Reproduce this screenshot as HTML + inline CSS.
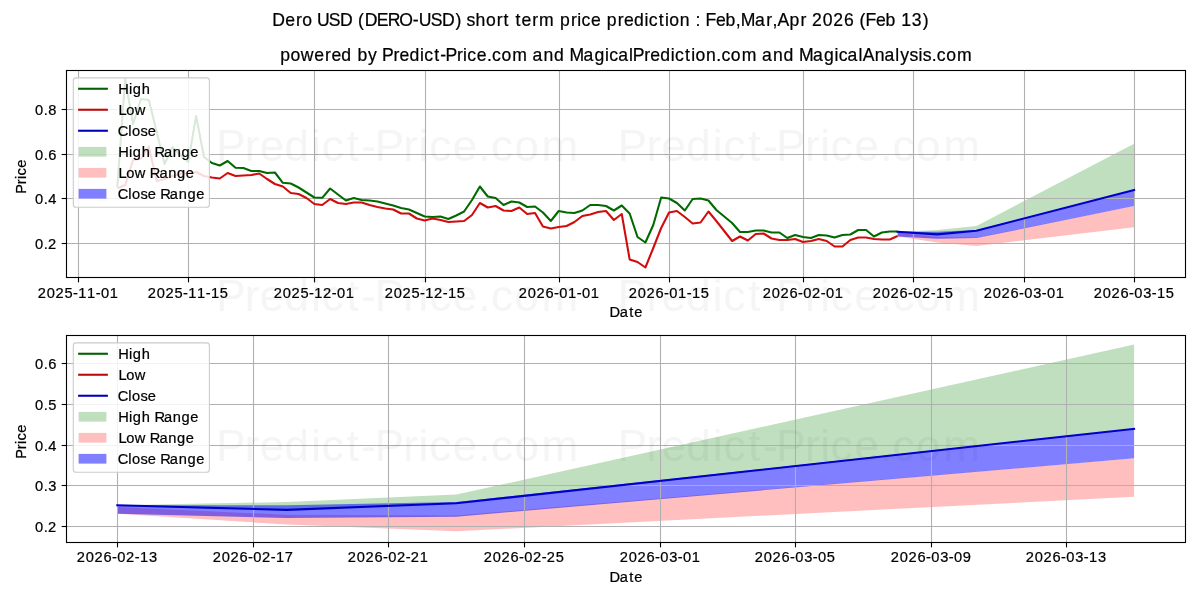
<!DOCTYPE html><html><head><meta charset="utf-8"><style>html,body{margin:0;padding:0;background:#fff;}svg{display:block;will-change:transform;}</style></head><body><svg width="1200" height="600" viewBox="0 0 1200 600" font-family='"Liberation Sans", sans-serif'>
<rect width="1200" height="600" fill="#fff"/>
<clipPath id="cliptop"><rect x="66.5" y="70.5" width="1119.0" height="207.0"/></clipPath>
<g clip-path="url(#cliptop)">
<polygon points="897.63,231.86 937.04,230.06 976.45,226.00 1134.09,143.79 1134.09,189.96 976.45,230.77 937.04,234.38 897.63,231.86" fill="#008000" fill-opacity="0.25"/>
<polygon points="897.63,232.79 937.04,237.07 976.45,237.45 1134.09,206.12 1134.09,227.15 976.45,246.10 937.04,242.38 897.63,236.46" fill="#ff0000" fill-opacity="0.25"/>
<polygon points="897.63,231.86 937.04,231.81 976.45,230.06 1134.09,189.96 1134.09,206.12 976.45,238.11 937.04,238.82 897.63,236.46" fill="#0000ff" fill-opacity="0.5"/>
<line x1="78.50" y1="70.5" x2="78.50" y2="277.5" stroke="#b0b0b0" stroke-width="1.11"/>
<line x1="188.50" y1="70.5" x2="188.50" y2="277.5" stroke="#b0b0b0" stroke-width="1.11"/>
<line x1="314.50" y1="70.5" x2="314.50" y2="277.5" stroke="#b0b0b0" stroke-width="1.11"/>
<line x1="425.50" y1="70.5" x2="425.50" y2="277.5" stroke="#b0b0b0" stroke-width="1.11"/>
<line x1="559.50" y1="70.5" x2="559.50" y2="277.5" stroke="#b0b0b0" stroke-width="1.11"/>
<line x1="669.50" y1="70.5" x2="669.50" y2="277.5" stroke="#b0b0b0" stroke-width="1.11"/>
<line x1="803.50" y1="70.5" x2="803.50" y2="277.5" stroke="#b0b0b0" stroke-width="1.11"/>
<line x1="913.50" y1="70.5" x2="913.50" y2="277.5" stroke="#b0b0b0" stroke-width="1.11"/>
<line x1="1024.50" y1="70.5" x2="1024.50" y2="277.5" stroke="#b0b0b0" stroke-width="1.11"/>
<line x1="1134.50" y1="70.5" x2="1134.50" y2="277.5" stroke="#b0b0b0" stroke-width="1.11"/>
<line x1="66.5" y1="243.50" x2="1185.5" y2="243.50" stroke="#b0b0b0" stroke-width="1.11"/>
<line x1="66.5" y1="198.50" x2="1185.5" y2="198.50" stroke="#b0b0b0" stroke-width="1.11"/>
<line x1="66.5" y1="154.50" x2="1185.5" y2="154.50" stroke="#b0b0b0" stroke-width="1.11"/>
<line x1="66.5" y1="109.50" x2="1185.5" y2="109.50" stroke="#b0b0b0" stroke-width="1.11"/>
<polyline points="117.30,187.00 125.18,79.00 133.06,124.00 140.95,99.00 148.83,100.00 156.71,132.00 164.59,164.00 172.47,147.00 180.36,155.00 188.24,162.00 196.12,116.00 204.00,157.00 211.89,163.00 219.77,165.50 227.65,161.00 235.53,167.80 243.41,168.00 251.30,171.00 259.18,171.00 267.06,173.00 274.94,172.50 282.82,182.80 290.71,183.50 298.59,187.50 306.47,192.50 314.35,197.50 322.23,197.80 330.12,188.50 338.00,194.50 345.88,200.50 353.76,198.00 361.65,200.00 369.53,200.50 377.41,201.50 385.29,203.50 393.17,205.50 401.06,208.00 408.94,209.50 416.82,213.00 424.70,216.50 432.58,217.00 440.47,216.50 448.35,219.00 456.23,215.50 464.11,211.50 471.99,200.00 479.88,186.50 487.76,196.50 495.64,198.00 503.52,205.00 511.41,201.50 519.29,202.50 527.17,207.00 535.05,206.50 542.93,212.50 550.82,221.00 558.70,211.00 566.58,212.50 574.46,213.00 582.34,210.50 590.23,205.00 598.11,205.00 605.99,206.00 613.87,210.50 621.75,205.50 629.64,213.50 637.52,237.00 645.40,242.50 653.28,225.00 661.16,197.50 669.05,198.50 676.93,203.00 684.81,210.50 692.69,199.00 700.58,198.50 708.46,200.50 716.34,210.00 724.22,216.50 732.10,223.00 739.99,232.00 747.87,232.00 755.75,230.50 763.63,230.50 771.51,232.50 779.40,232.50 787.28,238.00 795.16,235.00 803.04,237.00 810.92,238.00 818.81,235.00 826.69,235.50 834.57,237.50 842.45,235.00 850.34,234.50 858.22,230.00 866.10,230.00 873.98,236.50 881.86,232.50 889.75,231.50 897.63,231.50" fill="none" stroke="#006a00" stroke-width="2.08" stroke-linejoin="round" stroke-linecap="butt"/>
<polyline points="117.30,188.50 125.18,185.00 133.06,160.00 140.95,158.70 148.83,146.70 156.71,181.00 164.59,179.00 172.47,176.00 180.36,174.00 188.24,173.30 196.12,172.00 204.00,176.00 211.89,177.50 219.77,178.50 227.65,173.00 235.53,176.00 243.41,175.50 251.30,175.00 259.18,173.50 267.06,179.00 274.94,184.00 282.82,186.50 290.71,193.00 298.59,194.00 306.47,198.00 314.35,204.00 322.23,205.00 330.12,199.00 338.00,203.00 345.88,204.00 353.76,202.50 361.65,202.50 369.53,205.00 377.41,207.00 385.29,208.50 393.17,209.50 401.06,213.50 408.94,213.50 416.82,218.50 424.70,220.50 432.58,218.50 440.47,220.00 448.35,222.00 456.23,221.50 464.11,221.00 471.99,215.00 479.88,203.00 487.76,207.50 495.64,206.00 503.52,210.50 511.41,211.00 519.29,207.50 527.17,214.00 535.05,213.00 542.93,226.50 550.82,228.50 558.70,227.00 566.58,226.00 574.46,222.00 582.34,216.00 590.23,214.50 598.11,212.00 605.99,211.00 613.87,220.00 621.75,214.00 629.64,259.40 637.52,262.00 645.40,267.50 653.28,248.00 661.16,228.00 669.05,212.50 676.93,211.00 684.81,217.00 692.69,223.50 700.58,222.50 708.46,211.50 716.34,221.00 724.22,231.00 732.10,241.00 739.99,236.50 747.87,240.50 755.75,234.00 763.63,233.50 771.51,238.50 779.40,240.00 787.28,240.00 795.16,239.00 803.04,242.00 810.92,241.00 818.81,239.00 826.69,241.00 834.57,246.50 842.45,246.50 850.34,240.00 858.22,237.50 866.10,237.50 873.98,239.00 881.86,239.50 889.75,239.50 897.63,236.00" fill="none" stroke="#d00c0c" stroke-width="2.08" stroke-linejoin="round" stroke-linecap="butt"/>
<polyline points="897.63,231.86 937.04,234.38 976.45,230.77 1134.09,189.96" fill="none" stroke="#0000c8" stroke-width="2.08" stroke-linejoin="round" stroke-linecap="square"/>
</g>
<rect x="66.5" y="70.5" width="1119.0" height="207.0" fill="none" stroke="#000" stroke-width="1.11"/>
<line x1="78.50" y1="277.5" x2="78.50" y2="282.36" stroke="#000" stroke-width="1.11"/>
<text transform="translate(78.00,298.20) scale(1.0000,1)" x="-40.20 -31.18 -22.53 -13.56 -4.94 0.27 9.11 17.74 23.03 31.79" y="0" font-size="14.65" fill="#000" stroke="#000" stroke-width="0.22"  xml:space="preserve">2025-11-01</text>
<line x1="188.50" y1="277.5" x2="188.50" y2="282.36" stroke="#000" stroke-width="1.11"/>
<text transform="translate(188.00,298.20) scale(1.0000,1)" x="-40.20 -31.18 -22.53 -13.56 -4.94 0.27 9.11 17.74 22.96 31.81" y="0" font-size="14.65" fill="#000" stroke="#000" stroke-width="0.22"  xml:space="preserve">2025-11-15</text>
<line x1="314.50" y1="277.5" x2="314.50" y2="282.36" stroke="#000" stroke-width="1.11"/>
<text transform="translate(314.00,298.20) scale(1.0000,1)" x="-40.20 -31.18 -22.53 -13.56 -4.94 0.27 8.99 17.74 23.03 31.79" y="0" font-size="14.65" fill="#000" stroke="#000" stroke-width="0.22"  xml:space="preserve">2025-12-01</text>
<line x1="425.50" y1="277.5" x2="425.50" y2="282.36" stroke="#000" stroke-width="1.11"/>
<text transform="translate(425.00,298.20) scale(1.0000,1)" x="-40.20 -31.18 -22.53 -13.56 -4.94 0.27 8.99 17.74 22.96 31.81" y="0" font-size="14.65" fill="#000" stroke="#000" stroke-width="0.22"  xml:space="preserve">2025-12-15</text>
<line x1="559.50" y1="277.5" x2="559.50" y2="282.36" stroke="#000" stroke-width="1.11"/>
<text transform="translate(559.00,298.20) scale(1.0000,1)" x="-40.20 -31.18 -22.53 -13.51 -4.94 0.34 9.11 17.74 23.03 31.79" y="0" font-size="14.65" fill="#000" stroke="#000" stroke-width="0.22"  xml:space="preserve">2026-01-01</text>
<line x1="669.50" y1="277.5" x2="669.50" y2="282.36" stroke="#000" stroke-width="1.11"/>
<text transform="translate(669.00,298.20) scale(1.0000,1)" x="-40.20 -31.18 -22.53 -13.51 -4.94 0.34 9.11 17.74 22.96 31.81" y="0" font-size="14.65" fill="#000" stroke="#000" stroke-width="0.22"  xml:space="preserve">2026-01-15</text>
<line x1="803.50" y1="277.5" x2="803.50" y2="282.36" stroke="#000" stroke-width="1.11"/>
<text transform="translate(803.00,298.20) scale(1.0000,1)" x="-40.20 -31.18 -22.53 -13.51 -4.94 0.34 8.99 17.74 23.03 31.79" y="0" font-size="14.65" fill="#000" stroke="#000" stroke-width="0.22"  xml:space="preserve">2026-02-01</text>
<line x1="913.50" y1="277.5" x2="913.50" y2="282.36" stroke="#000" stroke-width="1.11"/>
<text transform="translate(913.00,298.20) scale(1.0000,1)" x="-40.20 -31.18 -22.53 -13.51 -4.94 0.34 8.99 17.74 22.96 31.81" y="0" font-size="14.65" fill="#000" stroke="#000" stroke-width="0.22"  xml:space="preserve">2026-02-15</text>
<line x1="1024.50" y1="277.5" x2="1024.50" y2="282.36" stroke="#000" stroke-width="1.11"/>
<text transform="translate(1024.00,298.20) scale(1.0000,1)" x="-40.20 -31.18 -22.53 -13.51 -4.94 0.34 9.20 17.74 23.03 31.79" y="0" font-size="14.65" fill="#000" stroke="#000" stroke-width="0.22"  xml:space="preserve">2026-03-01</text>
<line x1="1134.50" y1="277.5" x2="1134.50" y2="282.36" stroke="#000" stroke-width="1.11"/>
<text transform="translate(1134.00,298.20) scale(1.0000,1)" x="-40.20 -31.18 -22.53 -13.51 -4.94 0.34 9.20 17.74 22.96 31.81" y="0" font-size="14.65" fill="#000" stroke="#000" stroke-width="0.22"  xml:space="preserve">2026-03-15</text>
<line x1="61.64" y1="243.50" x2="66.5" y2="243.50" stroke="#000" stroke-width="1.11"/>
<text transform="translate(56.78,248.80) scale(1.0000,1)" x="-21.75 -13.09 -8.68" y="0" font-size="14.65" fill="#000" stroke="#000" stroke-width="0.22"  xml:space="preserve">0.2</text>
<line x1="61.64" y1="198.50" x2="66.5" y2="198.50" stroke="#000" stroke-width="1.11"/>
<text transform="translate(56.78,203.80) scale(1.0000,1)" x="-21.75 -13.09 -8.50" y="0" font-size="14.65" fill="#000" stroke="#000" stroke-width="0.22"  xml:space="preserve">0.4</text>
<line x1="61.64" y1="154.50" x2="66.5" y2="154.50" stroke="#000" stroke-width="1.11"/>
<text transform="translate(56.78,159.80) scale(1.0000,1)" x="-21.75 -13.09 -8.50" y="0" font-size="14.65" fill="#000" stroke="#000" stroke-width="0.22"  xml:space="preserve">0.6</text>
<line x1="61.64" y1="109.50" x2="66.5" y2="109.50" stroke="#000" stroke-width="1.11"/>
<text transform="translate(56.78,114.80) scale(1.0000,1)" x="-21.75 -13.09 -8.49" y="0" font-size="14.65" fill="#000" stroke="#000" stroke-width="0.22"  xml:space="preserve">0.8</text>
<text transform="translate(626.00,317.00) scale(1.0000,1)" x="-16.52 -6.24 3.26 8.28" y="0" font-size="14.65" fill="#000" stroke="#000" stroke-width="0.22"  xml:space="preserve">Date</text>
<text transform="translate(25.80,176.30) rotate(-90) scale(1.0000,1)" x="-17.41 -7.88 -2.80 0.75 8.62" y="0" font-size="14.65" fill="#000" stroke="#000" stroke-width="0.22"  xml:space="preserve">Price</text>
<rect x="73.3" y="77.9" width="136.1" height="129.3" rx="2.78" ry="2.78" fill="#fff" fill-opacity="0.85" stroke="#cccccc" stroke-width="1.11"/>
<line x1="78.1" y1="88.75" x2="107.9" y2="88.75" stroke="#006000" stroke-width="2.08"/>
<text transform="translate(118.30,93.75) scale(1.0000,1)" x="-0.07 10.75 14.55 23.46" y="0" font-size="14.65" fill="#000" stroke="#000" stroke-width="0.22"  xml:space="preserve">High</text>
<line x1="78.1" y1="109.75" x2="107.9" y2="109.75" stroke="#c00a0a" stroke-width="2.08"/>
<text transform="translate(118.30,114.75) scale(1.0000,1)" x="0.08 7.91 16.37" y="0" font-size="14.65" fill="#000" stroke="#000" stroke-width="0.22"  xml:space="preserve">Low</text>
<line x1="78.1" y1="130.75" x2="107.9" y2="130.75" stroke="#0000bb" stroke-width="2.08"/>
<text transform="translate(118.30,135.75) scale(1.0000,1)" x="-0.52 10.00 13.73 22.10 29.52" y="0" font-size="14.65" fill="#000" stroke="#000" stroke-width="0.22"  xml:space="preserve">Close</text>
<rect x="78.6" y="146.89" width="27.8" height="9.72" fill="#008000" fill-opacity="0.25"/>
<text transform="translate(118.30,156.75) scale(1.0000,1)" x="-0.07 10.75 14.55 23.46 32.09 36.10 45.65 54.56 63.24 72.04" y="0" font-size="14.65" fill="#000" stroke="#000" stroke-width="0.22"  xml:space="preserve">High Range</text>
<rect x="78.6" y="167.89" width="27.8" height="9.72" fill="#ff0000" fill-opacity="0.25"/>
<text transform="translate(118.30,177.75) scale(1.0000,1)" x="0.08 7.91 16.37 27.52 31.53 41.08 49.99 58.67 67.47" y="0" font-size="14.65" fill="#000" stroke="#000" stroke-width="0.22"  xml:space="preserve">Low Range</text>
<rect x="78.6" y="188.89" width="27.8" height="9.72" fill="#0000ff" fill-opacity="0.5"/>
<text transform="translate(118.30,198.75) scale(1.0000,1)" x="-0.52 10.00 13.73 22.10 29.52 38.01 42.01 51.56 60.47 69.16 77.95" y="0" font-size="14.65" fill="#000" stroke="#000" stroke-width="0.22"  xml:space="preserve">Close Range</text>
<clipPath id="clipbot"><rect x="66.5" y="335.5" width="1119.0" height="207.0"/></clipPath>
<g clip-path="url(#clipbot)">
<polygon points="117.30,505.30 286.76,502.00 456.23,494.60 1134.09,344.50 1134.09,428.80 456.23,503.30 286.76,509.90 117.30,505.30" fill="#008000" fill-opacity="0.25"/>
<polygon points="117.30,507.00 286.76,514.80 456.23,515.50 1134.09,458.30 1134.09,496.70 456.23,531.30 286.76,524.50 117.30,513.70" fill="#ff0000" fill-opacity="0.25"/>
<polygon points="117.30,505.30 286.76,505.20 456.23,502.00 1134.09,428.80 1134.09,458.30 456.23,516.70 286.76,518.00 117.30,513.70" fill="#0000ff" fill-opacity="0.5"/>
<line x1="117.50" y1="335.5" x2="117.50" y2="542.5" stroke="#b0b0b0" stroke-width="1.11"/>
<line x1="253.50" y1="335.5" x2="253.50" y2="542.5" stroke="#b0b0b0" stroke-width="1.11"/>
<line x1="388.50" y1="335.5" x2="388.50" y2="542.5" stroke="#b0b0b0" stroke-width="1.11"/>
<line x1="524.50" y1="335.5" x2="524.50" y2="542.5" stroke="#b0b0b0" stroke-width="1.11"/>
<line x1="660.50" y1="335.5" x2="660.50" y2="542.5" stroke="#b0b0b0" stroke-width="1.11"/>
<line x1="795.50" y1="335.5" x2="795.50" y2="542.5" stroke="#b0b0b0" stroke-width="1.11"/>
<line x1="931.50" y1="335.5" x2="931.50" y2="542.5" stroke="#b0b0b0" stroke-width="1.11"/>
<line x1="1066.50" y1="335.5" x2="1066.50" y2="542.5" stroke="#b0b0b0" stroke-width="1.11"/>
<line x1="66.5" y1="526.50" x2="1185.5" y2="526.50" stroke="#b0b0b0" stroke-width="1.11"/>
<line x1="66.5" y1="485.50" x2="1185.5" y2="485.50" stroke="#b0b0b0" stroke-width="1.11"/>
<line x1="66.5" y1="445.50" x2="1185.5" y2="445.50" stroke="#b0b0b0" stroke-width="1.11"/>
<line x1="66.5" y1="404.50" x2="1185.5" y2="404.50" stroke="#b0b0b0" stroke-width="1.11"/>
<line x1="66.5" y1="363.50" x2="1185.5" y2="363.50" stroke="#b0b0b0" stroke-width="1.11"/>
<polyline points="117.30,505.30 286.76,509.90 456.23,503.30 1134.09,428.80" fill="none" stroke="#0000c8" stroke-width="2.08" stroke-linejoin="round" stroke-linecap="square"/>
</g>
<rect x="66.5" y="335.5" width="1119.0" height="207.0" fill="none" stroke="#000" stroke-width="1.11"/>
<line x1="117.50" y1="542.5" x2="117.50" y2="547.36" stroke="#000" stroke-width="1.11"/>
<text transform="translate(117.00,562.40) scale(1.0000,1)" x="-40.20 -31.18 -22.53 -13.51 -4.94 0.34 8.99 17.74 22.96 31.88" y="0" font-size="14.65" fill="#000" stroke="#000" stroke-width="0.22"  xml:space="preserve">2026-02-13</text>
<line x1="253.50" y1="542.5" x2="253.50" y2="547.36" stroke="#000" stroke-width="1.11"/>
<text transform="translate(253.00,562.40) scale(1.0000,1)" x="-40.20 -31.18 -22.53 -13.51 -4.94 0.34 8.99 17.74 22.96 31.84" y="0" font-size="14.65" fill="#000" stroke="#000" stroke-width="0.22"  xml:space="preserve">2026-02-17</text>
<line x1="388.50" y1="542.5" x2="388.50" y2="547.36" stroke="#000" stroke-width="1.11"/>
<text transform="translate(388.00,562.40) scale(1.0000,1)" x="-40.20 -31.18 -22.53 -13.51 -4.94 0.34 8.99 17.74 22.84 31.79" y="0" font-size="14.65" fill="#000" stroke="#000" stroke-width="0.22"  xml:space="preserve">2026-02-21</text>
<line x1="524.50" y1="542.5" x2="524.50" y2="547.36" stroke="#000" stroke-width="1.11"/>
<text transform="translate(524.00,562.40) scale(1.0000,1)" x="-40.20 -31.18 -22.53 -13.51 -4.94 0.34 8.99 17.74 22.84 31.81" y="0" font-size="14.65" fill="#000" stroke="#000" stroke-width="0.22"  xml:space="preserve">2026-02-25</text>
<line x1="660.50" y1="542.5" x2="660.50" y2="547.36" stroke="#000" stroke-width="1.11"/>
<text transform="translate(660.00,562.40) scale(1.0000,1)" x="-40.20 -31.18 -22.53 -13.51 -4.94 0.34 9.20 17.74 23.03 31.79" y="0" font-size="14.65" fill="#000" stroke="#000" stroke-width="0.22"  xml:space="preserve">2026-03-01</text>
<line x1="795.50" y1="542.5" x2="795.50" y2="547.36" stroke="#000" stroke-width="1.11"/>
<text transform="translate(795.00,562.40) scale(1.0000,1)" x="-40.20 -31.18 -22.53 -13.51 -4.94 0.34 9.20 17.74 23.03 31.81" y="0" font-size="14.65" fill="#000" stroke="#000" stroke-width="0.22"  xml:space="preserve">2026-03-05</text>
<line x1="931.50" y1="542.5" x2="931.50" y2="547.36" stroke="#000" stroke-width="1.11"/>
<text transform="translate(931.00,562.40) scale(1.0000,1)" x="-40.20 -31.18 -22.53 -13.51 -4.94 0.34 9.20 17.74 23.03 31.82" y="0" font-size="14.65" fill="#000" stroke="#000" stroke-width="0.22"  xml:space="preserve">2026-03-09</text>
<line x1="1066.50" y1="542.5" x2="1066.50" y2="547.36" stroke="#000" stroke-width="1.11"/>
<text transform="translate(1066.00,562.40) scale(1.0000,1)" x="-40.20 -31.18 -22.53 -13.51 -4.94 0.34 9.20 17.74 22.96 31.88" y="0" font-size="14.65" fill="#000" stroke="#000" stroke-width="0.22"  xml:space="preserve">2026-03-13</text>
<line x1="61.64" y1="526.50" x2="66.5" y2="526.50" stroke="#000" stroke-width="1.11"/>
<text transform="translate(56.78,531.80) scale(1.0000,1)" x="-21.75 -13.09 -8.68" y="0" font-size="14.65" fill="#000" stroke="#000" stroke-width="0.22"  xml:space="preserve">0.2</text>
<line x1="61.64" y1="485.50" x2="66.5" y2="485.50" stroke="#000" stroke-width="1.11"/>
<text transform="translate(56.78,490.80) scale(1.0000,1)" x="-21.75 -13.09 -8.48" y="0" font-size="14.65" fill="#000" stroke="#000" stroke-width="0.22"  xml:space="preserve">0.3</text>
<line x1="61.64" y1="445.50" x2="66.5" y2="445.50" stroke="#000" stroke-width="1.11"/>
<text transform="translate(56.78,450.80) scale(1.0000,1)" x="-21.75 -13.09 -8.50" y="0" font-size="14.65" fill="#000" stroke="#000" stroke-width="0.22"  xml:space="preserve">0.4</text>
<line x1="61.64" y1="404.50" x2="66.5" y2="404.50" stroke="#000" stroke-width="1.11"/>
<text transform="translate(56.78,409.80) scale(1.0000,1)" x="-21.75 -13.09 -8.55" y="0" font-size="14.65" fill="#000" stroke="#000" stroke-width="0.22"  xml:space="preserve">0.5</text>
<line x1="61.64" y1="363.50" x2="66.5" y2="363.50" stroke="#000" stroke-width="1.11"/>
<text transform="translate(56.78,368.80) scale(1.0000,1)" x="-21.75 -13.09 -8.50" y="0" font-size="14.65" fill="#000" stroke="#000" stroke-width="0.22"  xml:space="preserve">0.6</text>
<text transform="translate(626.00,582.00) scale(1.0000,1)" x="-16.52 -6.24 3.26 8.28" y="0" font-size="14.65" fill="#000" stroke="#000" stroke-width="0.22"  xml:space="preserve">Date</text>
<text transform="translate(25.80,441.30) rotate(-90) scale(1.0000,1)" x="-17.41 -7.88 -2.80 0.75 8.62" y="0" font-size="14.65" fill="#000" stroke="#000" stroke-width="0.22"  xml:space="preserve">Price</text>
<rect x="73.3" y="342.9" width="136.1" height="129.3" rx="2.78" ry="2.78" fill="#fff" fill-opacity="0.85" stroke="#cccccc" stroke-width="1.11"/>
<line x1="78.1" y1="353.75" x2="107.9" y2="353.75" stroke="#006000" stroke-width="2.08"/>
<text transform="translate(118.30,358.75) scale(1.0000,1)" x="-0.07 10.75 14.55 23.46" y="0" font-size="14.65" fill="#000" stroke="#000" stroke-width="0.22"  xml:space="preserve">High</text>
<line x1="78.1" y1="374.75" x2="107.9" y2="374.75" stroke="#c00a0a" stroke-width="2.08"/>
<text transform="translate(118.30,379.75) scale(1.0000,1)" x="0.08 7.91 16.37" y="0" font-size="14.65" fill="#000" stroke="#000" stroke-width="0.22"  xml:space="preserve">Low</text>
<line x1="78.1" y1="395.75" x2="107.9" y2="395.75" stroke="#0000bb" stroke-width="2.08"/>
<text transform="translate(118.30,400.75) scale(1.0000,1)" x="-0.52 10.00 13.73 22.10 29.52" y="0" font-size="14.65" fill="#000" stroke="#000" stroke-width="0.22"  xml:space="preserve">Close</text>
<rect x="78.6" y="411.89" width="27.8" height="9.72" fill="#008000" fill-opacity="0.25"/>
<text transform="translate(118.30,421.75) scale(1.0000,1)" x="-0.07 10.75 14.55 23.46 32.09 36.10 45.65 54.56 63.24 72.04" y="0" font-size="14.65" fill="#000" stroke="#000" stroke-width="0.22"  xml:space="preserve">High Range</text>
<rect x="78.6" y="432.89" width="27.8" height="9.72" fill="#ff0000" fill-opacity="0.25"/>
<text transform="translate(118.30,442.75) scale(1.0000,1)" x="0.08 7.91 16.37 27.52 31.53 41.08 49.99 58.67 67.47" y="0" font-size="14.65" fill="#000" stroke="#000" stroke-width="0.22"  xml:space="preserve">Low Range</text>
<rect x="78.6" y="453.89" width="27.8" height="9.72" fill="#0000ff" fill-opacity="0.5"/>
<text transform="translate(118.30,463.75) scale(1.0000,1)" x="-0.52 10.00 13.73 22.10 29.52 38.01 42.01 51.56 60.47 69.16 77.95" y="0" font-size="14.65" fill="#000" stroke="#000" stroke-width="0.22"  xml:space="preserve">Close Range</text>
<text transform="translate(217.60,161.20) scale(1.0000,1)" x="-1.40 27.19 42.20 66.99 93.61 104.24 129.12 143.72 157.15 185.74 200.99 211.62 235.24 260.69 273.41 296.88 323.95" y="0" font-size="43.96" fill="#000" stroke="#000" stroke-width="0.22" opacity="0.035" xml:space="preserve">Predict-Price.com</text>
<text transform="translate(619.20,161.20) scale(1.0000,1)" x="-1.40 27.19 42.20 66.99 93.61 104.24 129.12 143.72 157.15 185.74 200.99 211.62 235.24 260.69 273.41 296.88 323.95" y="0" font-size="43.96" fill="#000" stroke="#000" stroke-width="0.22" opacity="0.035" xml:space="preserve">Predict-Price.com</text>
<text transform="translate(217.60,311.20) scale(1.0000,1)" x="-1.40 27.19 42.20 66.99 93.61 104.24 129.12 143.72 157.15 185.74 200.99 211.62 235.24 260.69 273.41 296.88 323.95" y="0" font-size="43.96" fill="#000" stroke="#000" stroke-width="0.22" opacity="0.035" xml:space="preserve">Predict-Price.com</text>
<text transform="translate(619.20,311.20) scale(1.0000,1)" x="-1.40 27.19 42.20 66.99 93.61 104.24 129.12 143.72 157.15 185.74 200.99 211.62 235.24 260.69 273.41 296.88 323.95" y="0" font-size="43.96" fill="#000" stroke="#000" stroke-width="0.22" opacity="0.035" xml:space="preserve">Predict-Price.com</text>
<text transform="translate(217.60,461.20) scale(1.0000,1)" x="-1.40 27.19 42.20 66.99 93.61 104.24 129.12 143.72 157.15 185.74 200.99 211.62 235.24 260.69 273.41 296.88 323.95" y="0" font-size="43.96" fill="#000" stroke="#000" stroke-width="0.22" opacity="0.035" xml:space="preserve">Predict-Price.com</text>
<text transform="translate(619.20,461.20) scale(1.0000,1)" x="-1.40 27.19 42.20 66.99 93.61 104.24 129.12 143.72 157.15 185.74 200.99 211.62 235.24 260.69 273.41 296.88 323.95" y="0" font-size="43.96" fill="#000" stroke="#000" stroke-width="0.22" opacity="0.035" xml:space="preserve">Predict-Price.com</text>
<text transform="translate(600.30,26.25) scale(1.0000,1)" x="-328.14 -315.13 -304.33 -298.09 -288.26 -283.42 -271.46 -260.30 -247.35 -242.38 -235.66 -223.58 -212.68 -201.08 -187.61 -181.46 -169.50 -158.34 -144.84 -138.89 -133.74 -124.71 -114.34 -103.53 -96.73 -90.76 -84.89 -78.87 -68.06 -61.19 -45.88 -40.29 -29.38 -22.99 -18.74 -9.29 0.90 6.49 17.39 23.69 33.61 44.25 48.51 58.46 64.58 69.06 79.48 89.82 95.27 100.73 105.21 115.68 125.25 135.36 140.50 154.60 166.05 172.11 177.21 189.28 200.18 206.41 211.69 222.52 232.90 243.73 254.13 259.10 265.11 275.58 285.15 295.44 300.85 311.56 322.50" y="0" font-size="17.58" fill="#000" stroke="#000" stroke-width="0.22"  xml:space="preserve">Dero USD (DERO-USD) short term price prediction : Feb,Mar,Apr 2026 (Feb 13)</text>
<text transform="translate(626.00,61.25) scale(1.0000,1)" x="-345.89 -335.60 -325.15 -311.71 -300.90 -294.61 -284.69 -274.20 -268.61 -258.00 -248.46 -243.93 -232.49 -226.49 -216.57 -205.93 -201.67 -191.72 -185.88 -180.51 -169.07 -162.97 -158.72 -149.27 -139.09 -134.00 -124.62 -113.79 -98.19 -93.50 -82.45 -72.02 -61.53 -56.57 -42.47 -31.55 -20.90 -16.65 -7.88 3.10 6.81 18.24 24.25 34.16 44.81 49.07 59.02 65.14 69.62 80.04 90.37 95.45 104.84 115.67 131.27 135.95 147.01 157.43 167.92 172.88 186.99 197.91 208.55 212.81 221.58 232.56 236.66 248.66 258.38 269.37 274.16 283.56 292.55 296.87 305.69 310.78 320.17 331.00" y="0" font-size="17.58" fill="#000" stroke="#000" stroke-width="0.22"  xml:space="preserve">powered by Predict-Price.com and MagicalPrediction.com and MagicalAnalysis.com</text>
</svg></body></html>
